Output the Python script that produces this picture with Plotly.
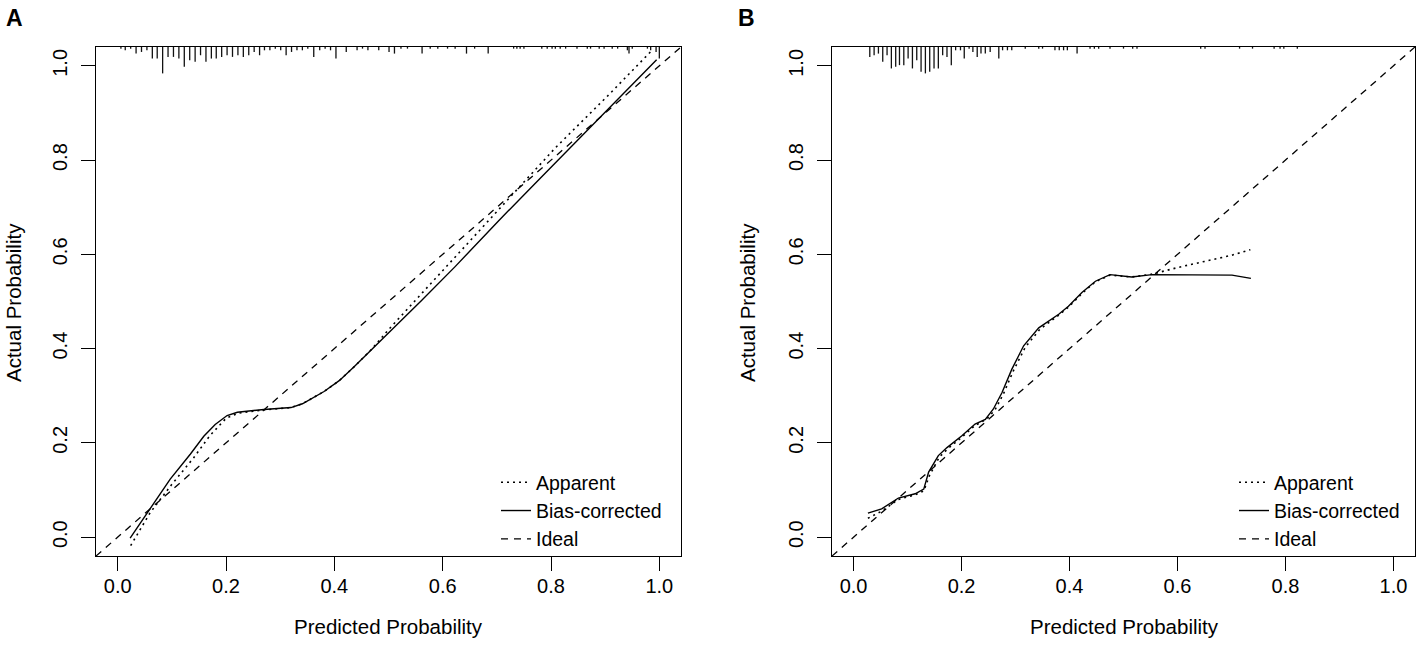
import plotly.graph_objects as go

# ---------------- data ----------------
# Panel A calibration curves
a_bias_x = [0.023, 0.060, 0.097, 0.134, 0.159, 0.180, 0.202, 0.221, 0.270, 0.320, 0.341, 0.381, 0.409,
            0.437, 0.487, 0.561, 0.623, 0.703, 0.777, 0.839, 0.926, 0.995]
a_bias_y = [-0.002, 0.060, 0.123, 0.176, 0.214, 0.239, 0.258, 0.265, 0.271, 0.275, 0.283, 0.309, 0.332,
            0.362, 0.418, 0.502, 0.574, 0.671, 0.758, 0.831, 0.932, 1.013]
a_app_x = [0.024, 0.060, 0.100, 0.140, 0.170, 0.200, 0.222, 0.270, 0.320, 0.341, 0.381, 0.409, 0.437,
           0.470, 0.499, 0.561, 0.623, 0.685, 0.746, 0.808, 0.907, 0.984]
a_app_y = [-0.018, 0.052, 0.112, 0.168, 0.215, 0.252, 0.263, 0.270, 0.275, 0.283, 0.309, 0.332, 0.362,
           0.400, 0.439, 0.517, 0.594, 0.672, 0.749, 0.826, 0.939, 1.030]

# Panel B calibration curves
b_bias_x = [0.0265, 0.052, 0.083, 0.114, 0.130, 0.139, 0.157, 0.173, 0.2006, 0.225, 0.244, 0.259, 0.275,
            0.293, 0.315, 0.343, 0.380, 0.398, 0.423, 0.448, 0.475, 0.515, 0.553, 0.633, 0.701, 0.736]
b_bias_y = [0.051, 0.060, 0.083, 0.092, 0.102, 0.138, 0.173, 0.190, 0.215, 0.240, 0.250, 0.272, 0.307,
            0.356, 0.406, 0.444, 0.473, 0.490, 0.519, 0.543, 0.557, 0.552, 0.557, 0.556, 0.556, 0.549]
b_app_x = [0.0265, 0.052, 0.083, 0.114, 0.130, 0.141, 0.159, 0.175, 0.2006, 0.225, 0.246, 0.262, 0.278,
           0.296, 0.318, 0.345, 0.380, 0.398, 0.423, 0.448, 0.475, 0.515, 0.553, 0.600, 0.650, 0.700, 0.735]
b_app_y = [0.040, 0.055, 0.080, 0.090, 0.098, 0.132, 0.170, 0.188, 0.212, 0.237, 0.250, 0.270, 0.305,
           0.353, 0.403, 0.441, 0.471, 0.488, 0.517, 0.542, 0.556, 0.552, 0.558, 0.572, 0.585, 0.598, 0.610]

ideal = [-0.04, 1.04]

# Rug (distribution of predicted probabilities): positions and relative frequency
a_rug_x = [0.006, 0.014, 0.024, 0.034, 0.044, 0.054, 0.064, 0.073, 0.083, 0.093, 0.103, 0.113, 0.123,
           0.133, 0.143, 0.153, 0.163, 0.173, 0.182, 0.192, 0.202, 0.212, 0.222, 0.232, 0.242, 0.252,
           0.262, 0.271, 0.281, 0.291, 0.301, 0.311, 0.321, 0.331, 0.341, 0.351, 0.362, 0.373, 0.383,
           0.393, 0.403, 0.422, 0.442, 0.452, 0.462, 0.482, 0.501, 0.511, 0.523, 0.535, 0.562, 0.577,
           0.591, 0.609, 0.623, 0.644, 0.659, 0.684, 0.731, 0.737, 0.743, 0.750, 0.783, 0.793, 0.802,
           0.808, 0.817, 0.827, 0.848, 0.867, 0.873, 0.889, 0.898, 0.913, 0.923, 0.941, 0.944, 0.950,
           0.978, 0.984, 0.994, 1.000]
a_rug_n = [1, 2, 1, 4, 3, 2, 7, 7, 16, 6, 6, 7, 12,
           8, 9, 5, 9, 7, 7, 6, 5, 6, 5, 6, 5, 3,
           5, 2, 2, 1, 2, 5, 3, 2, 2, 1, 6, 2, 1,
           2, 7, 3, 2, 1, 2, 2, 3, 4, 1, 1, 4, 1,
           1, 1, 1, 4, 1, 4, 1, 1, 1, 1, 1, 1, 1,
           1, 1, 1, 1, 1, 1, 1, 1, 1, 1, 2, 4, 1,
           1, 2, 3, 7]

b_rug_x = [0.030, 0.038, 0.046, 0.054, 0.062, 0.070, 0.078, 0.085, 0.093, 0.101, 0.109, 0.117, 0.125,
           0.133, 0.141, 0.149, 0.157, 0.165, 0.173, 0.181, 0.189, 0.198, 0.205, 0.214, 0.221, 0.229,
           0.236, 0.244, 0.253, 0.269, 0.276, 0.285, 0.293, 0.318, 0.343, 0.350, 0.373, 0.381, 0.389,
           0.396, 0.414, 0.438, 0.446, 0.454, 0.475, 0.500, 0.517, 0.525, 0.643, 0.651, 0.715, 0.739,
           0.779, 0.790, 0.797, 0.822]
b_rug_n = [6, 5, 4, 9, 5, 13, 12, 11, 11, 7, 13, 8, 15,
           16, 15, 13, 13, 5, 6, 11, 2, 2, 7, 1, 3, 6,
           4, 4, 3, 7, 2, 2, 2, 1, 1, 1, 2, 2, 2,
           2, 4, 1, 1, 1, 1, 1, 1, 1, 1, 1, 1, 1,
           1, 1, 1, 1]

tick_vals = [0.0, 0.2, 0.4, 0.6, 0.8, 1.0]
tick_text = ["0.0", "0.2", "0.4", "0.6", "0.8", "1.0"]
series_names = ["Apparent", "Bias-corrected", "Ideal"]
x_title = "Predicted Probability"
y_title = "Actual Probability"
panel_labels = ["A", "B"]

# ---------------- styling ----------------
FONT = "Liberation Sans, Arial, Helvetica, sans-serif"
AX_RANGE = [-0.04, 1.04]
RUG_TOP = 1.04
RUG_UNIT = 0.0035
W, H = 1417, 657


def rug_xy(xs, ns):
    rx, ry = [], []
    for x, n in zip(xs, ns):
        rx += [x, x, None]
        ry += [RUG_TOP, RUG_TOP - n * RUG_UNIT, None]
    return rx, ry


def px_x(p):
    return p / W


def px_y(p):
    return 1 - p / H


fig = go.Figure()

panels = [
    ("x", "y", "legend", a_rug_x, a_rug_n, a_app_x, a_app_y, a_bias_x, a_bias_y),
    ("x2", "y2", "legend2", b_rug_x, b_rug_n, b_app_x, b_app_y, b_bias_x, b_bias_y),
]
for xa, ya, lg, rx_, rn_, apx, apy, bcx, bcy in panels:
    rx, ry = rug_xy(rx_, rn_)
    fig.add_trace(go.Scatter(x=rx, y=ry, mode="lines", xaxis=xa, yaxis=ya,
                             line=dict(color="#111111", width=1.3), showlegend=False,
                             hoverinfo="skip"))
    fig.add_trace(go.Scatter(x=apx, y=apy, mode="lines", name=series_names[0], xaxis=xa, yaxis=ya,
                             line=dict(color="black", width=1.6, dash="2px,4px"), legend=lg))
    fig.add_trace(go.Scatter(x=bcx, y=bcy, mode="lines", name=series_names[1], xaxis=xa, yaxis=ya,
                             line=dict(color="black", width=1.4), legend=lg))
    fig.add_trace(go.Scatter(x=ideal, y=ideal, mode="lines", name=series_names[2], xaxis=xa, yaxis=ya,
                             line=dict(color="black", width=1.3, dash="7px,6px"), legend=lg))

axis_common = dict(range=AX_RANGE, showgrid=False, zeroline=False, showline=True, mirror=True,
                   linecolor="black", linewidth=1, ticks="outside", ticklen=14, tickwidth=1,
                   tickcolor="black", tickvals=tick_vals, ticktext=tick_text,
                   tickfont=dict(family=FONT, size=20, color="black"), fixedrange=True)

y_dom = [px_y(556), px_y(47)]
legend_style = dict(xanchor="left", yanchor="top", bgcolor="rgba(0,0,0,0)",
                    font=dict(family=FONT, size=19.5, color="black"), tracegroupgap=0, itemwidth=30)
fig.update_layout(
    width=W, height=H,
    margin=dict(l=0, r=0, t=0, b=0),
    paper_bgcolor="white", plot_bgcolor="white",
    font=dict(family=FONT, size=20, color="black"),
    xaxis=dict(domain=[px_x(96), px_x(681)], anchor="y", ticklabelstandoff=-2, **axis_common),
    yaxis=dict(domain=y_dom, anchor="x", tickangle=-90, ticklabelstandoff=6, **axis_common),
    xaxis2=dict(domain=[px_x(832), px_x(1415)], anchor="y2", ticklabelstandoff=-2, **axis_common),
    yaxis2=dict(domain=y_dom, anchor="x2", tickangle=-90, ticklabelstandoff=6, **axis_common),
    legend=dict(x=px_x(496), y=px_y(463), **legend_style),
    legend2=dict(x=px_x(1234), y=px_y(463), **legend_style),
    showlegend=True,
    hovermode=False,
)

annotations = []
for cx in [388, 1124]:
    annotations.append(dict(text=x_title, x=px_x(cx), y=px_y(626), xref="paper", yref="paper",
                            showarrow=False, xanchor="center", yanchor="middle",
                            font=dict(family=FONT, size=20.5, color="black")))
for cx in [14, 748]:
    annotations.append(dict(text=y_title, x=px_x(cx), y=px_y(303), xref="paper", yref="paper",
                            showarrow=False, xanchor="center", yanchor="middle", textangle=-90,
                            font=dict(family=FONT, size=20.5, color="black")))
for lab, cx in zip(panel_labels, [14, 746]):
    annotations.append(dict(text="<b>" + lab + "</b>", x=px_x(cx), y=px_y(18), xref="paper", yref="paper",
                            showarrow=False, xanchor="center", yanchor="middle",
                            font=dict(family=FONT, size=23, color="black")))
fig.update_layout(annotations=annotations)

fig.write_html("out.html", config={"displayModeBar": False},
               post_script="document.body.style.margin='0px';")
